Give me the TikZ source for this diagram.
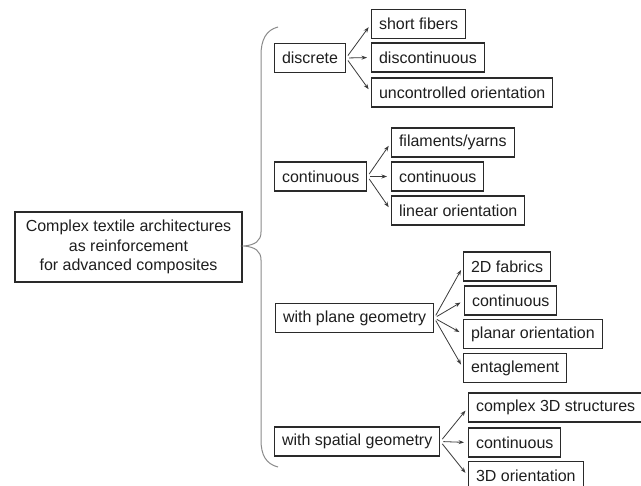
\documentclass[tikz,border=0pt]{standalone}
\usepackage{fontspec}
\setmainfont{Liberation Sans}
\usetikzlibrary{arrows.meta}
\definecolor{boxline}{HTML}{2A2A2A}
\definecolor{txt}{HTML}{1E1E1E}
\definecolor{arrowc}{HTML}{3A3A3A}
\definecolor{bracec}{HTML}{8A8A8A}
\begin{document}
\begin{tikzpicture}[x=1pt,y=-1pt,
  box/.style={draw=boxline, line width=1.1pt, text=txt, inner xsep=7.5pt, inner ysep=0pt,
    minimum height=29pt, anchor=west, font=\fontsize{16}{19.5}\selectfont},
  rootbox/.style={draw=boxline, line width=1.1pt, text=txt, align=center,
    minimum width=227pt, minimum height=70pt, inner sep=0pt,
    font=\fontsize{16}{19.8}\selectfont},
  link/.style={draw=arrowc, line width=0.8pt, -{Stealth[length=5.5pt,width=4pt]},
    shorten <=3pt, shorten >=4pt},
  brace/.style={draw=bracec, line width=1pt}
]
\useasboundingbox (0,0) rectangle (641,486);

% root
\node[rootbox] (root) at (128.5,247) {Complex textile architectures\\as reinforcement\\for advanced composites};

% curly brace grouping the four categories
\draw[brace] (278,27) .. controls (266,30) and (261,40) .. (261,55) -- (261,232)
  .. controls (261,241) and (255,245) .. (244,246)
  .. controls (255,247) and (261,251) .. (261,260) -- (261,440)
  .. controls (261,455) and (266,464) .. (278,467);

% categories
\node[box] (disc) at (274,58) {discrete};
\node[box] (cont) at (274,176.5) {continuous};
\node[box] (plane) at (275,318) {with plane geometry};
\node[box] (spat) at (274,441.5) {with spatial geometry};

% discrete
\node[box] (d1) at (371,24) {short fibers};
\node[box] (d2) at (371,57.5) {discontinuous};
\node[box] (d3) at (371,92.5) {uncontrolled orientation};

% continuous
\node[box] (c1) at (391,142.5) {filaments/yarns};
\node[box] (c2) at (391,176.5) {continuous};
\node[box] (c3) at (391,210.5) {linear orientation};

% plane geometry
\node[box] (p1) at (463,266.5) {2D fabrics};
\node[box] (p2) at (464,300.5) {continuous};
\node[box] (p3) at (463,334) {planar orientation};
\node[box] (p4) at (463,368) {entaglement};

% spatial geometry
\node[box] (s1) at (468,407.5) {complex 3D structures};
\node[box] (s2) at (468,442.5) {continuous};
\node[box] (s3) at (468,476) {3D orientation};

% arrows
\foreach \c in {d1,d2,d3} \draw[link] (disc.east) -- (\c.west);
\foreach \c in {c1,c2,c3} \draw[link] (cont.east) -- (\c.west);
\foreach \c in {p1,p2,p3,p4} \draw[link] (plane.east) -- (\c.west);
\foreach \c in {s1,s2,s3} \draw[link] (spat.east) -- (\c.west);
\end{tikzpicture}
\end{document}
